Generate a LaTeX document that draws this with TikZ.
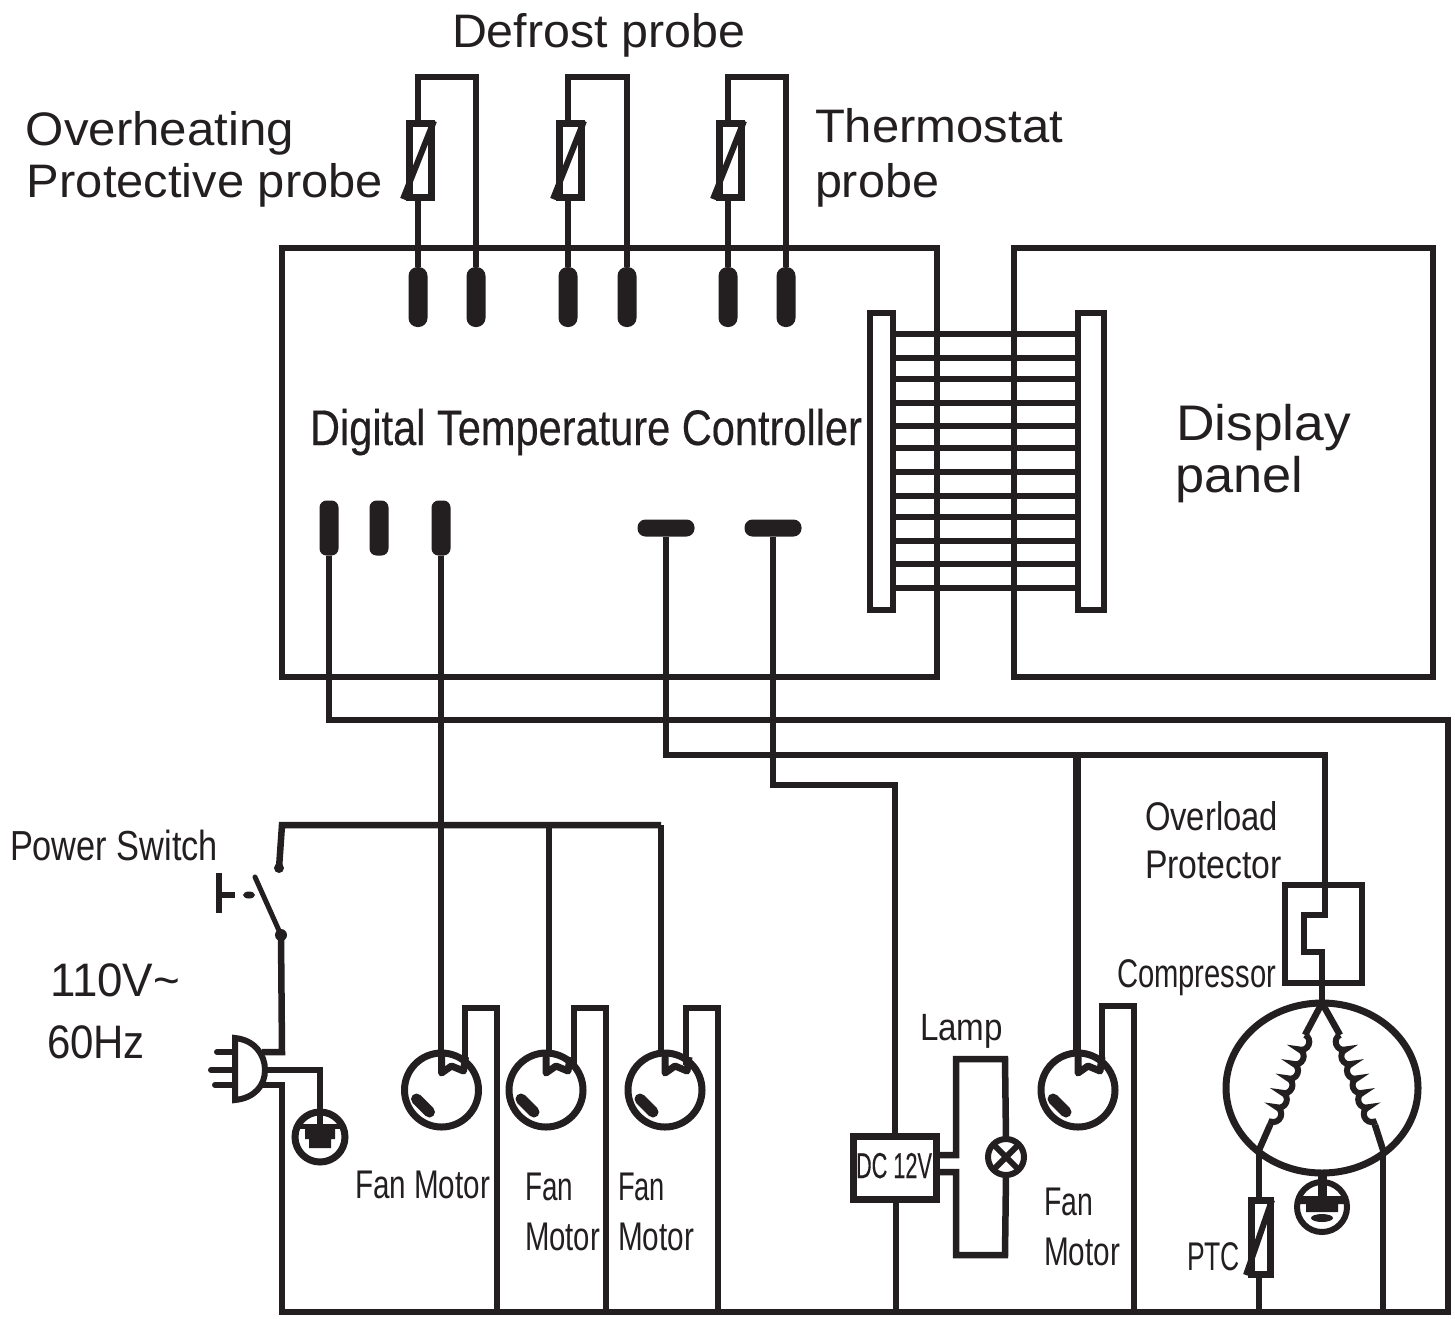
\documentclass[tikz,border=0pt]{standalone}
\usepackage{fontspec}
\setmainfont{Liberation Sans}
\newfontfamily\heavy[FakeBold=0.35]{Liberation Sans}
\usetikzlibrary{shapes.geometric,shapes.misc,decorations.pathmorphing,calc}
\definecolor{ink}{HTML}{231F20}
\newcommand{\lbl}[6]{\node[anchor=base west,inner sep=0pt,outer sep=0pt,text=ink] (#1) at (#2,#3) {\resizebox{#4pt}{\height}{\fontsize{#5}{#5}\selectfont #6}};}
\tikzset{
  wire/.style={draw=ink,line width=6.5pt,line join=miter},
  box/.style={draw=ink,line width=6pt,rectangle,outer sep=0pt,inner sep=0pt,fill=white},
  vterm/.style={fill=ink,rectangle,rounded corners=9pt,minimum width=19pt,minimum height=60pt,outer sep=0pt,inner sep=0pt},
  sterm/.style={fill=ink,rectangle,rounded corners=7pt,minimum width=19pt,minimum height=55pt,outer sep=0pt,inner sep=0pt},
  hterm/.style={fill=ink,rectangle,rounded corners=8pt,minimum width=57pt,minimum height=17pt,outer sep=0pt,inner sep=0pt},
  round/.style={draw=ink,line width=7pt,circle,outer sep=0pt,inner sep=0pt,fill=white},
}
\begin{document}
\begin{tikzpicture}[x=1pt,y=-1pt]
\useasboundingbox (0,0) rectangle (1455,1318);
% ---------- main boxes
\node[box,fill=none,minimum width=655pt,minimum height=429pt] (ctrl) at (609.5,462.5) {};
\node[box,fill=none,minimum width=419pt,minimum height=429pt] (disp) at (1223.5,462.5) {};
% ---------- ladder
\node[box,minimum width=23pt,minimum height=297pt] (barL) at (881.5,461.5) {};
\node[box,minimum width=26pt,minimum height=297pt] (barR) at (1091,461.5) {};
\foreach \yy in {334,358,379,403,426,448,472,496,517,541,564,588}
  \draw[wire] (barL.east |- 0,\yy) -- (barR.west |- 0,\yy);
% ---------- probes
\foreach \nm/\xa/\xb in {A/418/476,B/568/627,C/728/786}{
  \node[vterm] (t\nm1) at (\xa,297) {};
  \node[vterm] (t\nm2) at (\xb,297) {};
  \coordinate (p\nm) at (\xb,77);
  \node[box,fill=none,line width=7pt,minimum width=22pt,minimum height=74pt] (r\nm) at ($(\xa,160)+(2,0)$) {};
  \draw[wire] (t\nm1.north) -- (t\nm1.north |- r\nm.south);
  \draw[wire] (t\nm1.north |- r\nm.north) |- (p\nm) -- (t\nm2.north);
  \draw[draw=ink,line width=6pt] ($(r\nm.south west)+(-6,2)$) -- ($(r\nm.north east)+(3,-2)$);
}
% ---------- lower-left terminals
\node[sterm] (s1) at (329,528) {};
\node[sterm] (s2) at (379,528) {};
\node[sterm] (s3) at (441,528) {};
\node[hterm] (h1) at (666,528) {};
\node[hterm] (h2) at (773,528) {};
% ---------- bus
\coordinate (bus) at (282,1312);
\coordinate (busR) at (1448,1312);
\coordinate (topR) at (1448,720);
\draw[wire] (s1) |- (topR) -- (busR) -- (bus);
% ---------- switch and plug
\coordinate (lineTop) at (282,825);
\coordinate (lineEnd) at (661,825);
\coordinate (swTop) at (279,868);
\coordinate (swBot) at (281,935);
\coordinate (plugA) at (262,1052);
\coordinate (plugB) at (267,1070);
\coordinate (plugC) at (262,1085);
\draw[wire] (lineEnd) -- (lineTop) -- (swTop);
\fill[ink] (swTop) circle (5);
\draw[wire] (swBot) -- (282,1052) -- (plugA);
\draw[wire,line cap=rect] (plugC) -- (282,1085) -- (bus) -- (300,1312);
\fill[ink] (swBot) circle (6);
\draw[draw=ink,line width=5pt,line cap=round] (255,877) -- (swBot);
\draw[draw=ink,line width=6pt] (219,873) -- (219,913);
\draw[draw=ink,line width=6pt] (219,895) -- (235,895);
\fill[ink] (249,895) ellipse (6 and 3.5);
% plug body
\draw[draw=ink,line width=6pt,fill=white] (235,1038) .. controls (255,1040) and (265,1055) .. (265,1070) .. controls (265,1085) and (255,1098) .. (235,1100) -- cycle;
\draw[draw=ink,line width=6pt,line cap=round] (217,1052) -- (235,1052);
\draw[draw=ink,line width=6pt,line cap=round] (211,1070) -- (235,1070);
\draw[draw=ink,line width=6pt,line cap=round] (215,1085) -- (235,1085);
% ground 1
\node[round,minimum size=50pt] (g1) at (320,1137) {};
\draw[wire] (plugB) -| (g1.center);
\draw[draw=ink,line width=5pt] ($(g1.center)+(-25,-11)$) -- ($(g1.center)+(25,-11)$);
\fill[ink] ($(g1.center)+(-15,-11)$) -- ($(g1.center)+(15,-11)$) -- ($(g1.center)+(15,2)$) -- ($(g1.center)+(11,2)$) -- ($(g1.center)+(11,11)$) -- ($(g1.center)+(-11,11)$) -- ($(g1.center)+(-11,2)$) -- ($(g1.center)+(-15,2)$) -- cycle;
% ---------- fan motors
\foreach \nm/\cx/\cy/\rx/\ry in {m1/441.5/1090/465/1008,m2/546/1090/574/1008,m3/665/1090/686/1008,m4/1078/1090/1102/1006}{
  \node[round,minimum size=74pt] (\nm) at (\cx,\cy) {};
  \coordinate (\nm r) at (\rx,1065);
  \coordinate (\nm t) at (\rx+32,\ry);
  \draw[wire] (\nm r) |- (\nm t) -- (\nm t |- bus);
  \draw[draw=ink,line width=11pt,line cap=round] ($(\nm.center)+(-25,9)$) -- ($(\nm.center)+(-12,22)$);
  \draw[draw=ink,line width=7pt,line join=round] ($(\nm.center)+(0,-36)$) -- ($(\nm.center)+(0,-17)$) -- ($(\nm.center)+(10,-24)$) -- ($(\nm.center)+(22,-19)$) -- ($(\nm.center)+(24,-33)$);
}
\draw[wire] (s3) -- (441,1056);
\coordinate (j2) at (549,825);
\coordinate (j3) at (661,825);
\draw[wire] (j2) -- (549,1056);
\draw[wire] (j3) -- (661,1056);
% ---------- upper right wires
\coordinate (rowA) at (1325,755);
\coordinate (rowB) at (895,785);
\coordinate (branch4) at (1077,755);
\draw[wire] (h1) |- (rowA) -- (1325,915) -- (1304,915) -- (1304,952) -- (1322,952) -- (1322,1003);
\draw[wire] (h2) |- (rowB) -- (895,1136);
\draw[wire,line width=8pt] (branch4) -- (1077,1056);
% ---------- DC box and lamp
\node[box,line width=7pt,minimum width=83pt,minimum height=63pt] (dc) at (894.5,1167.5) {};
\draw[wire] (896,1199) -- (896,1312);
\node[round,line width=6pt,minimum size=36pt] (lamp) at (1006,1157) {};
\coordinate (lpTL) at (956,1059);
\coordinate (lpBL) at (956,1255);
\coordinate (lpTR) at (1005,1059);
\coordinate (lpBR) at (1005,1255);
\draw[wire] (dc.east |- 0,1155) -- (956,1155) -- (lpTL) -- (lpTR) -- (lamp.north);
\draw[wire] (dc.east |- 0,1172) -- (956,1172) -- (lpBL) -- (lpBR) -- (lamp.south);
\draw[draw=ink,line width=6pt] ($(lamp.center)+(-12,-12)$) -- ($(lamp.center)+(12,12)$);
\draw[draw=ink,line width=6pt] ($(lamp.center)+(-12,12)$) -- ($(lamp.center)+(12,-12)$);
% ---------- overload protector
\node[box,fill=none,minimum width=77pt,minimum height=98pt] (ol) at (1323.5,934) {};
% ---------- compressor
\node[draw=ink,line width=7pt,ellipse,minimum width=192pt,minimum height=170pt,inner sep=0pt,outer sep=0pt] (comp) at (1322,1088) {};
\coordinate (legL) at (1259,1150);
\coordinate (legR) at (1383,1150);
\coordinate (windL) at (1305,1035);
\coordinate (windLb) at (1270,1125);
\coordinate (windR) at (1340,1035);
\coordinate (windRb) at (1375,1125);
\draw[wire] (1322,1003) -- (windL);
\draw[wire] (1322,1003) -- (windR);
\draw[draw=ink,line width=6pt,decorate,decoration={bumps,segment length=31pt,amplitude=7pt}] (windL) -- (windLb);
\draw[draw=ink,line width=6pt,decorate,decoration={bumps,segment length=31pt,amplitude=7pt,mirror}] (windR) -- (windRb);
\draw[wire] (windLb) -- (legL);
\draw[wire] (windRb) -- (legR);
\node[box,line width=7pt,fill=none,minimum width=19pt,minimum height=74pt] (ptc) at (1260.5,1237) {};
\draw[wire] (legL) -- (legL |- ptc.north);
\draw[wire] (legL |- ptc.south) -- (legL |- bus);
\draw[wire] (legR) -- (legR |- bus);
\draw[draw=ink,line width=6pt] ($(ptc.south west)+(-5,1)$) -- ($(ptc.north east)+(2,0)$);
% ground 2
\node[round,line width=6pt,minimum size=50pt] (g2) at (1322,1207) {};
\draw[draw=ink,line width=9pt] (1322,1173) -- (1322,1200);
\fill[ink] (1296,1196) -- (1348,1196) -- (1348,1204) -- (1338,1204) -- (1338,1212) -- (1306,1212) -- (1306,1204) -- (1296,1204) -- cycle;
\fill[ink] (1322,1218) ellipse (11 and 4);
% ---------- labels
\lbl{tDefrost}{452}{47}{293}{47}{Defrost probe}
\lbl{tOver}{26}{145}{268}{47}{Overheating}
\lbl{tProt}{27}{197}{356}{47}{Protective probe}
\lbl{tTherm}{815}{142}{248}{47}{Thermostat}
\lbl{tThermb}{815}{197}{124}{47}{probe}
\lbl{tCtrl}{310}{445}{552}{50}{\heavy Digital Temperature Controller}
\lbl{tDisp}{1176}{440}{175}{50}{Display}
\lbl{tPanel}{1175}{492}{128}{50}{panel}
\lbl{tPower}{10}{860}{208}{42}{Power Switch}
\lbl{tVolt}{50}{996}{130}{47}{110V\textasciitilde}
\lbl{tHz}{47}{1058}{98}{47}{60Hz}
\lbl{tFan}{355}{1198}{135}{40}{Fan Motor}
\lbl{tFanB}{525}{1200}{48}{40}{Fan}
\lbl{tMotB}{525}{1250}{75}{40}{Motor}
\lbl{tFanC}{618}{1200}{47}{40}{Fan}
\lbl{tMotC}{618}{1250}{76}{40}{Motor}
\lbl{tDC}{856}{1178}{76}{36}{\heavy DC 12V}
\lbl{tLamp}{920}{1040}{83}{38}{Lamp}
\lbl{tFanD}{1044}{1215}{49}{40}{Fan}
\lbl{tMotD}{1044}{1265}{76}{40}{Motor}
\lbl{tOL}{1145}{830}{133}{40}{Overload}
\lbl{tOP}{1145}{878}{137}{40}{Protector}
\lbl{tComp}{1117}{987}{159}{40}{Compressor}
\lbl{tPTC}{1187}{1270}{53}{40}{PTC}
\end{tikzpicture}
\end{document}
